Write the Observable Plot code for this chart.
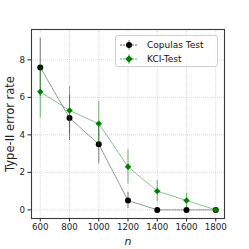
<!DOCTYPE html>
<html>
<head>
<meta charset="utf-8">
<script src="https://cdn.jsdelivr.net/npm/d3@7"></script>
<script src="https://cdn.jsdelivr.net/npm/@observablehq/plot@0.6"></script>
<style>
  html, body { margin: 0; padding: 0; background: #fff; }
  #wrap { position: relative; width: 249px; height: 249px; font-family: "DejaVu Sans", sans-serif; }
  #wrap svg { font-family: "DejaVu Sans", sans-serif; }
  g[aria-label="y-axis label"] text { font-size: 11.5px; }
  g[aria-label="x-axis label"] text { font-size: 11px; font-style: italic; }
  #legend { position: absolute; left: 115px; top: 35px; width: 103px; height: 32px;
    border: 1px solid #d0d0d0; border-radius: 3px; background: rgba(255,255,255,0.85);
    box-sizing: border-box; font-size: 9px; color: #111; }
  #legend .row { position: absolute; left: 0; height: 14px; display: flex; align-items: center; }
  #legend svg { display: block; }
</style>
</head>
<body>
<div id="wrap"></div>
<script>
const ns = [600, 800, 1000, 1200, 1400, 1600, 1800];
const copulaMean = [7.6, 4.9, 3.5, 0.5, 0, 0, 0];
const copulaErr = [1.55, 1.2, 1.05, 0.43, 0, 0, 0];
const kciMean = [6.3, 5.3, 4.6, 2.3, 1.0, 0.5, 0];
const kciErr = [1.4, 1.27, 1.2, 0.9, 0.57, 0.4, 0];
const xTicks = [600, 800, 1000, 1200, 1400, 1600, 1800];
const yTicks = [0, 2, 4, 6, 8];
const seriesNames = ["Copulas Test", "KCI-Test"];
const seriesColors = ["#000000", "#008000"];

const copula = ns.map((n, i) => ({n, y: copulaMean[i], lo: copulaMean[i] - copulaErr[i], hi: copulaMean[i] + copulaErr[i]}));
const kci = ns.map((n, i) => ({n, y: kciMean[i], lo: kciMean[i] - kciErr[i], hi: kciMean[i] + kciErr[i]}));

const chart = Plot.plot({
  width: 249,
  height: 249,
  marginLeft: 31,
  marginRight: 25,
  marginTop: 29,
  marginBottom: 31,
  style: {fontFamily: "DejaVu Sans, sans-serif", fontSize: "8.7px", color: "#222", background: "#fff"},
  x: {domain: [540, 1860], ticks: xTicks},
  y: {domain: [-0.46, 9.62], ticks: yTicks},
  marks: [
    Plot.gridX(xTicks, {stroke: "#bdbdbd", strokeOpacity: 1, strokeWidth: 0.6, strokeDasharray: "1,1"}),
    Plot.gridY(yTicks, {stroke: "#bdbdbd", strokeOpacity: 1, strokeWidth: 0.6, strokeDasharray: "1,1"}),
    Plot.axisX({ticks: xTicks, tickFormat: d => String(d), tickSize: 3.5, tickPadding: 2, label: "n", labelAnchor: "center", labelArrow: "none", labelOffset: 26, fontSize: 8.7}),
    Plot.axisY({ticks: yTicks, tickFormat: d => String(d), tickSize: 3.5, tickPadding: 3, label: "Type-II error rate", labelAnchor: "center", labelArrow: "none", labelOffset: 26, fontSize: 8.7}),
    // Copulas
    Plot.ruleX(copula, {x: "n", y1: "lo", y2: "hi", stroke: seriesColors[0], strokeOpacity: 0.45, strokeWidth: 1.1}),
    Plot.line(copula, {x: "n", y: "y", stroke: seriesColors[0], strokeOpacity: 0.75, strokeWidth: 0.6, strokeDasharray: "2,1"}),
    Plot.dot(copula, {x: "n", y: "y", r: 3, fill: seriesColors[0], stroke: "none"}),
    // KCI
    Plot.ruleX(kci, {x: "n", y1: "lo", y2: "hi", stroke: seriesColors[1], strokeOpacity: 0.5, strokeWidth: 1.1}),
    Plot.line(kci, {x: "n", y: "y", stroke: seriesColors[1], strokeOpacity: 0.85, strokeWidth: 0.6, strokeDasharray: "2,1"}),
    Plot.dot(kci, {x: "n", y: "y", r: 2.9, symbol: "diamond2", fill: seriesColors[1], stroke: "none"}),
    Plot.frame({stroke: "#3a3a3a", strokeWidth: 1.1})
  ]
});

const wrap = document.getElementById("wrap");
wrap.appendChild(chart);

// Legend
const legend = document.createElement("div");
legend.id = "legend";
seriesNames.forEach((name, i) => {
  const row = document.createElement("div");
  row.className = "row";
  row.style.top = (2 + i * 14.3) + "px";
  const sym = i === 0
    ? `<circle cx="13" cy="7" r="3" fill="${seriesColors[i]}"/>`
    : `<path d="M13,3.2 L16.8,7 L13,10.8 L9.2,7 Z" fill="${seriesColors[i]}"/>`;
  row.innerHTML = `<svg width="31" height="14"><line x1="4" y1="7" x2="21" y2="7" stroke="${seriesColors[i]}" stroke-width="0.6" stroke-dasharray="2,1"/><line x1="13" y1="2" x2="13" y2="12" stroke="${seriesColors[i]}" stroke-opacity="0.5" stroke-width="1"/>${sym}</svg><span>${name}</span>`;
  legend.appendChild(row);
});
wrap.appendChild(legend);
</script>
</body>
</html>
